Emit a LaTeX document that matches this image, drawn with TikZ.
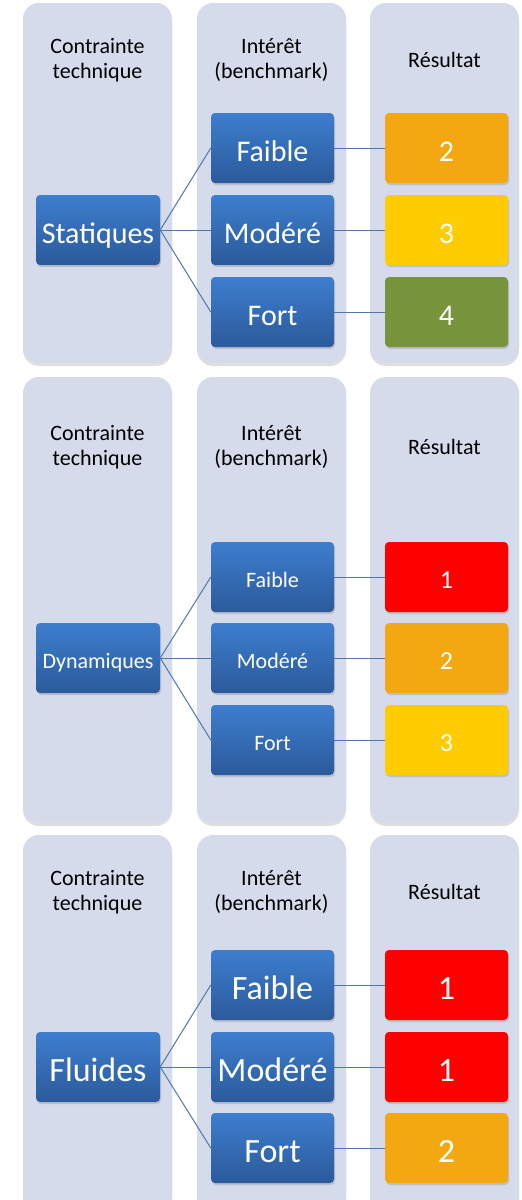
\documentclass[tikz,border=0pt]{standalone}
\usepackage{fontspec}
\setmainfont{Carlito}
\usetikzlibrary{shadows}
\definecolor{colbg}{RGB}{213,219,235}
\definecolor{btop}{RGB}{61,126,206}
\definecolor{bbot}{RGB}{43,90,155}
\definecolor{rorange}{RGB}{243,167,17}
\definecolor{ryellow}{RGB}{255,204,0}
\definecolor{rgreen}{RGB}{119,147,60}
\definecolor{rred}{RGB}{255,0,0}
\definecolor{linkc}{RGB}{79,119,170}
\begin{document}
\begin{tikzpicture}[x=1pt,y=-1pt,
  column/.style={fill=colbg, rounded corners=16pt,
    drop shadow={opacity=0.25, shadow xshift=0pt, shadow yshift=-3pt}},
  boxbase/.style={rounded corners=4pt, draw=none, text=white,
    minimum height=70pt, inner sep=0pt, text depth=0pt,
    drop shadow={opacity=0.3, shadow xshift=1pt, shadow yshift=-2pt}},
  bluebox/.style={boxbase, top color=btop, bottom color=bbot, minimum width=123pt},
  leftbox/.style={bluebox, minimum width=124pt},
  resbox/.style={boxbase, fill=#1, minimum width=123pt},
  pa/.style={font=\fontsize{30}{36}\selectfont, text height=27pt},
  pb/.style={font=\fontsize{22}{26}\selectfont, text height=21pt},
  pbnum/.style={font=\fontsize{26}{30}\selectfont, text height=22pt},
  pc/.style={font=\fontsize{34}{40}\selectfont, text height=28pt},
  header/.style={anchor=base, font=\fontsize{22}{25}\selectfont, text=black, inner sep=0pt},
  link/.style={draw=linkc, line width=1pt}
]
\useasboundingbox (0,0) rectangle (522,1200);
\clip (0,0) rectangle (522,1200);
\fill[white] (0,0) rectangle (522,1200);

% column backgrounds
\foreach \a/\b in {23/172,197/346,370/519}{
  \path[column] (\a,3) rectangle (\b,363);
  \path[column] (\a,377) rectangle (\b,823);
  \path[column] (\a,835) rectangle (\b,1215);
}

% headers
\foreach \p/\dy in {1/0,2/387,3/832.5}{
  \node[header] (hc\p) at (97.5,53.3+\dy) {Contrainte};
  \node[header] (ht\p) at (97.5,78.3+\dy) {technique};
  \node[header] (hi\p) at (271.5,53.3+\dy) {Intérêt};
  \node[header] (hb\p) at (271.5,78.3+\dy) {(benchmark)};
  \node[header] (hr\p) at (444.5,67.3+\dy) {Résultat};
}

% panel 1
\node[leftbox, pa] (s) at (98,230) {Statiques};
\node[bluebox, pa] (s1) at (272.5,148) {Faible};
\node[bluebox, pa] (s2) at (272.5,230) {Modéré};
\node[bluebox, pa] (s3) at (272.5,312) {Fort};
\node[resbox=rorange, pa] (sr1) at (446.5,148) {2};
\node[resbox=ryellow, pa] (sr2) at (446.5,230) {3};
\node[resbox=rgreen, pa] (sr3) at (446.5,312) {4};
\foreach \i in {1,2,3}{
  \draw[link] (s.east) -- (s\i.west);
  \draw[link] (s\i.east) -- (sr\i.west);
}

% panel 2
\node[leftbox, pb] (d) at (98,658) {Dynamiques};
\node[bluebox, pb] (d1) at (272.5,577) {Faible};
\node[bluebox, pb] (d2) at (272.5,658) {Modéré};
\node[bluebox, pb] (d3) at (272.5,740) {Fort};
\node[resbox=rred, pbnum] (dr1) at (446.5,577) {1};
\node[resbox=rorange, pbnum] (dr2) at (446.5,658) {2};
\node[resbox=ryellow, pbnum] (dr3) at (446.5,740) {3};
\foreach \i in {1,2,3}{
  \draw[link] (d.east) -- (d\i.west);
  \draw[link] (d\i.east) -- (dr\i.west);
}

% panel 3
\node[leftbox, pc] (f) at (98,1067) {Fluides};
\node[bluebox, pc] (f1) at (272.5,985) {Faible};
\node[bluebox, pc] (f2) at (272.5,1067) {Modéré};
\node[bluebox, pc] (f3) at (272.5,1148) {Fort};
\node[resbox=rred, pc] (fr1) at (446.5,985) {1};
\node[resbox=rred, pc] (fr2) at (446.5,1067) {1};
\node[resbox=rorange, pc] (fr3) at (446.5,1148) {2};
\foreach \i in {1,2,3}{
  \draw[link] (f.east) -- (f\i.west);
  \draw[link] (f\i.east) -- (fr\i.west);
}
\end{tikzpicture}
\end{document}
